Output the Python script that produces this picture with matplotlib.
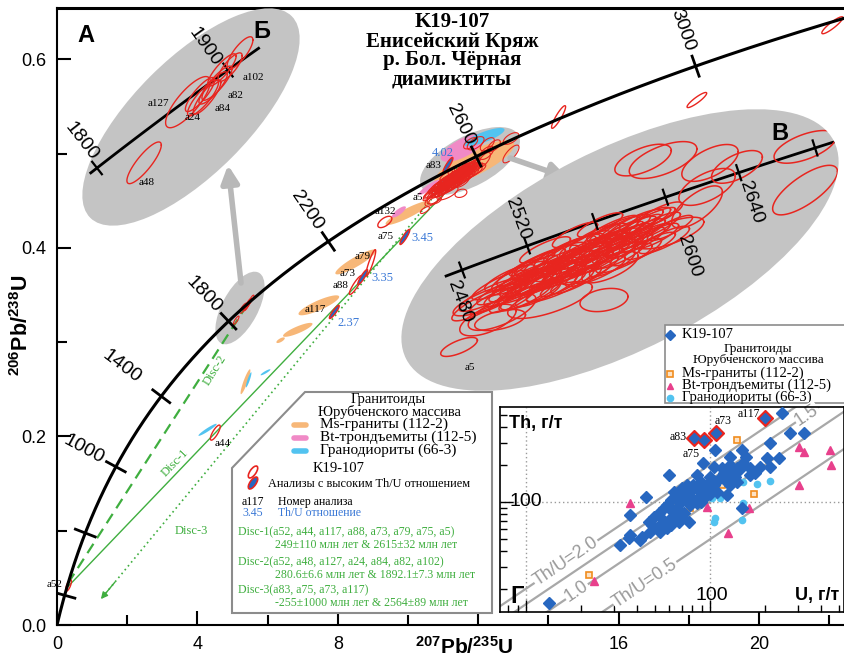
import numpy as np
import matplotlib.pyplot as plt
from matplotlib.patches import Ellipse, Polygon, Rectangle
from matplotlib.transforms import Affine2D

plt.rcParams['font.family'] = ['Liberation Sans', 'DejaVu Sans']
plt.rcParams['mathtext.fontset'] = 'custom'
plt.rcParams['mathtext.rm'] = 'Liberation Sans'
plt.rcParams['mathtext.bf'] = 'Liberation Sans:bold'
SERIF = ['Liberation Serif', 'DejaVu Serif']

RED = '#e8251f'
ORANGE = '#f7b778'
PINK = '#f08ac6'
LBLUE = '#52c3f0'
DBLUE = '#2767c0'
GREEN = '#3fae3f'
GRAY = '#c4c4c4'
THU_BLUE = '#3a78d6'

L238, L235 = 1.55125e-10, 9.8485e-10

# concordia marks, Ma
conc_ticks = [200, 600, 1000, 1400, 1800, 2200, 2600, 3000]
conc_labels = [1000, 1400, 1800, 2200, 2600, 3000]
label_dist = [36, 50, 36, 38, 36, 38]

# discordia intercepts, Ma
disc_lower = [249, 280.6, -255]
disc_upper = [2615, 1892.1, 2564]

# K19-107 single spots: 207Pb/235U, 206Pb/238U, 1s errors, rho
sp_name = ['a52', 'a44', 'a117', 'a88', 'a73', 'a79', 'a75', 'a132', 'a83', '', '', '']
sp_x = [0.33, 4.51, 7.90, 8.51, 8.71, 8.94, 9.91, 9.34, 11.14, 14.29, 18.23, 22.09]
sp_y = [0.042, 0.204, 0.332, 0.3605, 0.369, 0.384, 0.4115, 0.4274, 0.4878, 0.5387, 0.5567, 0.636]
sp_sx = [0.04, 0.07, 0.07, 0.09, 0.07, 0.07, 0.07, 0.10, 0.07, 0.10, 0.14, 0.15]
sp_sy = [0.003, 0.004, 0.0035, 0.005, 0.004, 0.007, 0.004, 0.003, 0.004, 0.006, 0.004, 0.0045]
sp_rho = [0.7, 0.8, 0.9, 0.9, 0.9, 0.9, 0.9, 0.6, 0.9, 0.9, 0.9, 0.9]
thu_high = {'a117': '2.37', 'a73': '3.35', 'a75': '3.45', 'a83': '4.02'}

# K19-107 Neoarchean cluster (inset В)
cl_x = [10.771, 10.841, 10.877, 10.927, 10.969, 11.019, 11.054, 11.090, 11.125, 11.161,
        11.196, 11.231, 11.267, 11.302, 11.338, 11.373, 11.409, 11.444, 11.480, 11.515,
        11.551, 11.586, 11.622, 11.657, 11.692, 11.728, 11.763, 11.820, 11.870, 11.905,
        10.983, 11.196, 11.409, 11.622, 11.090, 11.302, 11.480, 10.700, 10.629,
        10.735, 10.806, 10.856, 10.912, 10.955, 11.005, 11.040, 11.097, 11.139, 11.182,
        11.217, 11.267, 11.310, 11.352, 11.395, 11.437, 11.480, 11.522, 11.565, 11.607,
        11.650, 11.692, 11.735, 11.778, 11.834, 11.877, 11.934, 11.976, 11.054, 10.912,
        11.373,
        11.508, 10.771, 10.678, 11.125, 10.480, 12.934, 12.934, 12.451, 12.260, 12.239,
        12.168, 11.976, 11.927, 11.785, 11.551, 10.785, 10.685,
        10.898, 10.969, 11.040, 11.111, 11.182, 11.253, 11.324, 11.395, 11.466, 11.536,
        11.607, 11.678, 11.749, 11.834, 10.948, 11.090, 11.231, 11.373, 11.515, 11.657,
        11.799, 10.997, 11.281, 11.565]
cl_y = [0.4635, 0.4662, 0.4616, 0.4684, 0.4646, 0.4700, 0.4654, 0.4722, 0.4677, 0.4737,
        0.4700, 0.4760, 0.4722, 0.4775, 0.4737, 0.4791, 0.4760, 0.4813, 0.4775, 0.4821,
        0.4791, 0.4844, 0.4806, 0.4851, 0.4821, 0.4866, 0.4836, 0.4882, 0.4859, 0.4904,
        0.4597, 0.4635, 0.4692, 0.4749, 0.4768, 0.4825, 0.4863, 0.4597, 0.4559,
        0.4578, 0.4616, 0.4578, 0.4631, 0.4593, 0.4639, 0.4601, 0.4661, 0.4624, 0.4669,
        0.4639, 0.4692, 0.4654, 0.4707, 0.4677, 0.4722, 0.4692, 0.4737, 0.4715, 0.4768,
        0.4737, 0.4783, 0.4760, 0.4806, 0.4783, 0.4821, 0.4806, 0.4851, 0.4722, 0.4669,
        0.4749,
        0.4578, 0.4502, 0.4578, 0.4578, 0.4400, 0.5159, 0.4995, 0.5083, 0.5098, 0.5007,
        0.4931, 0.4832, 0.5109, 0.5109, 0.4703, 0.4533, 0.4502,
        0.4646, 0.4669, 0.4684, 0.4699, 0.4722, 0.4737, 0.4753, 0.4775, 0.4790, 0.4806,
        0.4828, 0.4844, 0.4859, 0.4881, 0.4616, 0.4646, 0.4684, 0.4715, 0.4753, 0.4790,
        0.4821, 0.4715, 0.4775, 0.4851]
cl_sx = [0.10, 0.09, 0.11, 0.09, 0.10, 0.08, 0.10, 0.12, 0.09, 0.11,
         0.09, 0.11, 0.08, 0.10, 0.11, 0.09, 0.12, 0.09, 0.10, 0.08,
         0.11, 0.09, 0.11, 0.09, 0.08, 0.10, 0.09, 0.08, 0.09, 0.08,
         0.11, 0.12, 0.10, 0.09, 0.09, 0.08, 0.08, 0.11, 0.10,
         0.09, 0.10, 0.08, 0.11, 0.09, 0.10, 0.08, 0.11, 0.09, 0.10,
         0.08, 0.10, 0.09, 0.11, 0.08, 0.10, 0.09, 0.10, 0.08, 0.09,
         0.10, 0.08, 0.09, 0.08, 0.09, 0.08, 0.09, 0.08, 0.09, 0.10,
         0.09,
         0.085, 0.09, 0.12, 0.15, 0.065, 0.11, 0.115, 0.09, 0.10, 0.10,
         0.09, 0.12, 0.12, 0.10, 0.10, 0.12, 0.10,
         0.09, 0.10, 0.08, 0.09, 0.10, 0.08, 0.09, 0.10, 0.09, 0.08,
         0.09, 0.10, 0.08, 0.09, 0.10, 0.09, 0.08, 0.10, 0.09, 0.08,
         0.09, 0.08, 0.10, 0.09]
cl_sy = [0.0028, 0.0025, 0.0031, 0.0026, 0.0029, 0.0024, 0.0028, 0.0032, 0.0025, 0.0030,
         0.0026, 0.0031, 0.0024, 0.0028, 0.0030, 0.0025, 0.0032, 0.0026, 0.0028, 0.0024,
         0.0030, 0.0025, 0.0031, 0.0026, 0.0024, 0.0028, 0.0025, 0.0024, 0.0026, 0.0023,
         0.0030, 0.0032, 0.0028, 0.0026, 0.0025, 0.0024, 0.0023, 0.0031, 0.0030,
         0.0026, 0.0028, 0.0024, 0.0030, 0.0026, 0.0028, 0.0024, 0.0030, 0.0026, 0.0028,
         0.0024, 0.0028, 0.0026, 0.0030, 0.0024, 0.0028, 0.0026, 0.0028, 0.0024, 0.0026,
         0.0028, 0.0024, 0.0026, 0.0024, 0.0026, 0.0024, 0.0026, 0.0024, 0.0026, 0.0028,
         0.0026,
         0.0022, 0.0020, 0.0030, 0.0035, 0.0018, 0.0031, 0.0047, 0.0031, 0.0035, 0.0035,
         0.0040, 0.0030, 0.0035, 0.0030, 0.0030, 0.0035, 0.0030,
         0.0024, 0.0026, 0.0022, 0.0025, 0.0027, 0.0022, 0.0024, 0.0026, 0.0025, 0.0022,
         0.0024, 0.0026, 0.0022, 0.0024, 0.0026, 0.0025, 0.0022, 0.0026, 0.0024, 0.0022,
         0.0024, 0.0022, 0.0026, 0.0024]
cl_rho = [0.85, 0.82, 0.86, 0.84, 0.80, 0.85, 0.83, 0.86, 0.82, 0.85,
          0.84, 0.86, 0.81, 0.85, 0.83, 0.84, 0.86, 0.82, 0.85, 0.80,
          0.84, 0.83, 0.86, 0.82, 0.80, 0.85, 0.83, 0.81, 0.84, 0.80,
          0.86, 0.85, 0.83, 0.84, 0.82, 0.80, 0.81, 0.85, 0.84,
          0.84, 0.86, 0.82, 0.85, 0.83, 0.86, 0.81, 0.84, 0.85, 0.82,
          0.86, 0.83, 0.84, 0.85, 0.82, 0.86, 0.83, 0.84, 0.81, 0.85,
          0.83, 0.86, 0.82, 0.84, 0.85, 0.83, 0.82, 0.84, 0.85, 0.83,
          0.84,
          0.30, 0.50, 0.80, 0.70, 0.70, 0.60, 0.75, 0.60, 0.60, 0.60,
          0.70, 0.70, 0.60, 0.60, 0.70, 0.70, 0.60,
          0.88, 0.87, 0.89, 0.88, 0.86, 0.89, 0.88, 0.87, 0.88, 0.89,
          0.88, 0.87, 0.89, 0.88, 0.87, 0.88, 0.89, 0.87, 0.88, 0.89,
          0.88, 0.89, 0.87, 0.88]
A5 = 74

# K19-107 Paleoproterozoic group (inset А/Б)
pp_name = ['a48', 'a127', 'a24', 'a84', 'a82', 'a102', '', '', '', '']
pp_x = [5.106, 5.310, 5.380, 5.399, 5.445, 5.552, 5.506, 5.468, 5.427, 5.366]
pp_y = [0.3232, 0.3360, 0.3369, 0.3371, 0.3400, 0.3464, 0.3434, 0.3428, 0.3390, 0.3376]
pp_sx = [0.040, 0.052, 0.036, 0.032, 0.035, 0.030, 0.028, 0.033, 0.033, 0.034]
pp_sy = [0.0022, 0.0027, 0.0019, 0.0018, 0.0018, 0.0017, 0.0015, 0.0017, 0.0017, 0.0018]
pp_rho = [0.85, 0.80, 0.85, 0.85, 0.85, 0.80, 0.80, 0.85, 0.85, 0.85]

# Yurubchen massif granitoids
ms_x = [7.46, 6.86, 6.37, 5.37, 8.51, 10.00, 11.89]
ms_y = [0.339, 0.313, 0.302, 0.258, 0.385, 0.437, 0.490]
ms_sx = [0.29, 0.21, 0.06, 0.07, 0.29, 0.32, 0.57]
ms_sy = [0.0053, 0.0037, 0.0015, 0.0066, 0.0066, 0.0064, 0.012]
ms_rho = [0.85, 0.85, 0.7, 0.9, 0.9, 0.9, 0.8]
bt_x = [9.74, 11.57, 10.60]
bt_y = [0.438, 0.506, 0.464]
bt_sx = [0.10, 0.32, 0.15]
bt_sy = [0.003, 0.0074, 0.004]
bt_rho = [0.8, 0.7, 0.9]
gd_x = [5.46, 5.94, 4.29, 12.17, 11.14]
gd_y = [0.260, 0.268, 0.207, 0.5175, 0.474]
gd_sx = [0.04, 0.07, 0.13, 0.29, 0.15]
gd_sy = [0.004, 0.0016, 0.0032, 0.0048, 0.004]
gd_rho = [0.9, 0.9, 0.95, 0.8, 0.9]

# Th vs U, ppm
k_u = [246, 273, 323, 213, 149, 107, 129, 156, 204, 213, 236, 188, 176, 152, 140, 129,
       119, 105, 92, 85, 60, 100, 89, 81, 85, 96, 105, 109, 124, 129, 140, 166, 137, 143,
       45, 63.5, 67.6, 61, 72, 75, 81, 85, 78, 69, 66, 61, 56, 52.6, 49.4, 46.5, 48.4,
       51.5, 53.7, 56, 61, 64.9, 70.5, 76.6, 72, 89, 94.4, 61, 58.4, 47.4, 42.7, 41.8,
       36.9, 36.1, 32.6, 36.9, 149, 13.3, 75, 70.5, 78, 90.5, 111, 116, 124, 129, 166,
       100, 86.7, 58.4, 53.7, 67.6]
k_th = [519, 358, 358, 297, 263, 263, 232, 232, 225, 193, 225, 193, 170, 205, 187, 176,
        170, 193, 205, 165, 165, 160, 146, 137, 129, 137, 137, 121, 114, 137, 146, 165, 160, 181,
        110, 121, 110, 104, 121, 107, 104, 97.5, 94.6, 97.5, 88.9, 86, 88.9, 81, 76, 69.4, 65,
        61.4, 57.7, 69.4, 73.8, 78.5, 76, 69.4, 81, 100.6, 110, 65, 61.4, 57.7, 52.5, 49.4,
        54.2, 50.9, 45, 78.5, 88.9, 15.2, 137, 129, 121, 121, 150, 187, 146, 199, 187,
        117, 110, 94.6, 76, 69.4]
hi_name = ['a83', 'a75', 'a73', 'a117']
hi_u = [82.2, 92.4, 107.8, 200]
hi_th = [330, 316, 358, 474]
ms_u = [141, 116, 173, 75, 78, 21.9]
ms_th = [316, 137, 117, 104, 88.9, 25.8]
bt_u = [303, 323, 447, 455, 306, 90.5, 96, 162, 126, 36.9, 23.3]
bt_th = [279, 255, 263, 199, 137, 114, 91.7, 88.9, 55.9, 97.5, 23.1]
gd_u = [159, 152, 180, 213, 102.6, 114, 152, 149, 107, 105]
gd_th = [193, 146, 139, 148, 107, 107, 97.5, 71.6, 73.8, 69.4]
thu_ratios = [2.0, 1.5, 1.0, 0.5]


def concordia(t):
    t = np.asarray(t, float) * 1e6
    return np.exp(L235 * t) - 1, np.exp(L238 * t) - 1


def conc_slope(t):
    t = t * 1e6
    return L238 * np.exp(L238 * t) / (L235 * np.exp(L235 * t))


def ell(x, y, sx, sy, rho, k=2.0):
    a = np.linspace(0, 2 * np.pi, 80)
    cov = np.array([[sx * sx, rho * sx * sy], [rho * sx * sy, sy * sy]])
    p = k * np.linalg.cholesky(cov) @ np.vstack([np.cos(a), np.sin(a)])
    return np.column_stack([x + p[0], y + p[1]])


W, H = 845, 668
fig = plt.figure(figsize=(W / 100, H / 100), dpi=100)
kx, ky = 35.1, 943.0
ax = fig.add_axes([57 / W, (H - 625) / H, 788 / W, 617 / H])
ax.set_xlim(0, 788 / kx)
ax.set_ylim(0, 617 / ky)
ax.set_autoscale_on(False)

# image-pixel coordinates (origin top-left) for layout pieces
pix = Affine2D().scale(1, -1).translate(0, H)


def inset_tf(t0, px, py, sx, sy):
    x0, y0 = concordia(t0)
    return Affine2D().translate(-x0, -y0).scale(sx, sy).translate(px, H - py)


def ptext(x, y, s, **kw):
    kw.setdefault('va', 'center')
    kw.setdefault('zorder', 12)
    return ax.text(x, y, s, transform=pix, **kw)


def conc_marks(tf, sx, sy, ages, half, lw, z, clip=None):
    for t in ages:
        x, y = concordia(t)
        th = np.arctan(conc_slope(t) * sy / sx)
        nx, ny = -np.sin(th), np.cos(th)
        ln, = ax.plot([x - nx * half / sx, x + nx * half / sx],
                      [y - ny * half / sy, y + ny * half / sy],
                      color='k', lw=lw, transform=tf, zorder=z, solid_capstyle='butt')
        if clip is not None:
            ln.set_clip_path(clip)


def conc_label(tf, sx, sy, t, off, size, z):
    x, y = concordia(t)
    th = np.degrees(np.arctan(conc_slope(t) * sy / sx))
    ax.annotate(str(t), (x, y), xycoords=tf, xytext=off, textcoords='offset pixels',
                rotation=th - 90, rotation_mode='anchor', ha='center', va='center',
                fontsize=size, zorder=z)


# small grey frames around the enlarged groups
ax.add_patch(Ellipse((240, 308), 80, 36, angle=-62, transform=pix, fc=GRAY, ec='none', zorder=1))
ax.add_patch(Ellipse((470, 161), 110, 50, angle=-28, transform=pix, fc=GRAY, ec='none', zorder=1))

# granitoid reference ellipses
for xs, ys, sxs, sys_, rs, col in [(ms_x, ms_y, ms_sx, ms_sy, ms_rho, ORANGE),
                                   (bt_x, bt_y, bt_sx, bt_sy, bt_rho, PINK),
                                   (gd_x, gd_y, gd_sx, gd_sy, gd_rho, LBLUE)]:
    for i in range(len(xs)):
        ax.add_patch(Polygon(ell(xs[i], ys[i], sxs[i], sys_[i], rs[i]), closed=True,
                             fc=col, ec='none', zorder=2))

# discordia lines
styles = [dict(ls='-', lw=1.0), dict(ls=(0, (5, 3)), lw=1.6), dict(ls=(0, (1, 2)), lw=1.2)]
for i in range(3):
    x1, y1 = concordia(disc_lower[i])
    x2, y2 = concordia(disc_upper[i])
    if i == 2:
        xe = 1.25
        ye = y2 + (xe - x2) * (y2 - y1) / (x2 - x1)
        ax.plot([x2, xe], [y2, ye], color=GREEN, zorder=3, **styles[i])
        ax.annotate('', xy=(xe, ye), xytext=(xe + 0.4, ye + 0.4 * (y2 - y1) / (x2 - x1)),
                    arrowprops=dict(arrowstyle='-|>', color=GREEN, lw=1, mutation_scale=10,
                                    shrinkA=0, shrinkB=0), zorder=3)
    else:
        ax.plot([x1, x2], [y1, y2], color=GREEN, zorder=3, **styles[i])
ptext(175, 463, 'Disc-1', family=SERIF, fontsize=9, color=GREEN, rotation=46, ha='center', zorder=3)
ptext(215, 370, 'Disc-2', family=SERIF, fontsize=9, color=GREEN, rotation=58, ha='center', zorder=3)
ptext(191, 531, 'Disc-3', family=SERIF, fontsize=9, color=GREEN, ha='center', zorder=3)

# K19-107 ellipses at full scale
for i in range(len(cl_x)):
    ax.add_patch(Polygon(ell(cl_x[i], cl_y[i], cl_sx[i], cl_sy[i], cl_rho[i]), closed=True,
                         fill=False, ec=RED, lw=0.8, zorder=4))
for i in range(len(pp_x)):
    ax.add_patch(Polygon(ell(pp_x[i], pp_y[i], pp_sx[i], pp_sy[i], pp_rho[i]), closed=True,
                         fill=False, ec=RED, lw=0.8, zorder=4))
lab_off = {'a52': (-14, 1), 'a44': (7, -11), 'a117': (-19, 2), 'a88': (-15, 0),
           'a73': (-15, 4), 'a79': (-8, 6), 'a75': (-19, 0), 'a132': (1, 10), 'a83': (-14, 0)}
thu_off = {'a117': (14, -11), 'a73': (20, -1), 'a75': (18, -1), 'a83': (-5, 12)}
for i in range(len(sp_x)):
    nm = sp_name[i]
    hi = nm in thu_high
    ax.add_patch(Polygon(ell(sp_x[i], sp_y[i], sp_sx[i], sp_sy[i], sp_rho[i]), closed=True,
                         fc=DBLUE if hi else 'none', ec=RED, lw=1.0, zorder=5 if hi else 4))
    if nm:
        ax.annotate(nm, (sp_x[i], sp_y[i]), xytext=lab_off[nm], textcoords='offset pixels',
                    ha='center', va='center', family=SERIF, fontsize=8, zorder=7)
    if hi:
        ax.annotate(thu_high[nm], (sp_x[i], sp_y[i]), xytext=thu_off[nm], textcoords='offset pixels',
                    ha='center', va='center', family=SERIF, fontsize=9, color=THU_BLUE, zorder=7)
ax.annotate('a5', (cl_x[A5], cl_y[A5]), xytext=(-7, 13), textcoords='offset pixels',
            ha='center', va='center', family=SERIF, fontsize=8, zorder=7)

# concordia
tc = np.linspace(0, 3300, 700)
cx, cy = concordia(tc)
ax.plot(cx, cy, color='k', lw=2.2, zorder=6)
conc_marks(ax.transData, kx, ky, conc_ticks, 12, 2.0, 6)
for t, d in zip(conc_labels, label_dist):
    th = np.arctan(conc_slope(t) * ky / kx)
    conc_label(ax.transData, kx, ky, t, (-np.sin(th) * d, np.cos(th) * d), 14, 7)

# arrows to the enlarged views
arrow = dict(arrowstyle='-|>', color='#b8b8b8', lw=4, mutation_scale=26, shrinkA=0, shrinkB=0)
ax.annotate('', xy=(228, 165), xytext=(241, 283), xycoords=pix, textcoords=pix,
            arrowprops=arrow, zorder=8)
ax.annotate('', xy=(568, 178), xytext=(510, 158), xycoords=pix, textcoords=pix,
            arrowprops=arrow, zorder=8)

# inset А/Б
frame_a = Ellipse((191, 117), 285, 115, angle=-45, transform=pix, fc=GRAY, ec='none', zorder=8)
ax.add_patch(frame_a)
sxa, sya = 215.0, 4739.0
tfa = inset_tf(1800, 97, 168, sxa, sya)
ta = np.linspace(1795, 1922, 100)
ln, = ax.plot(*concordia(ta), color='k', lw=2, transform=tfa, zorder=9)
ln.set_clip_path(frame_a)
conc_marks(tfa, sxa, sya, [1800, 1900], 9, 1.6, 9, frame_a)
conc_label(tfa, sxa, sya, 1800, (-16, 27), 14, 9)
conc_label(tfa, sxa, sya, 1900, (-23, 23), 14, 9)
pp_off = {'a48': (3, -20), 'a127': (-30, -1), 'a24': (-10, -20), 'a84': (16, -12),
          'a82': (19, -12), 'a102': (13, -25)}
for i in range(len(pp_x)):
    ln, = ax.plot(*ell(pp_x[i], pp_y[i], pp_sx[i], pp_sy[i], pp_rho[i]).T, color=RED,
                  lw=1.0, transform=tfa, zorder=9)
    ln.set_clip_path(frame_a)
    if pp_name[i]:
        ax.annotate(pp_name[i], (pp_x[i], pp_y[i]), xycoords=tfa, xytext=pp_off[pp_name[i]],
                    textcoords='offset pixels', ha='center', va='center', family=SERIF,
                    fontsize=8, zorder=9)
ptext(86, 35, 'А', fontsize=17, fontweight='bold', ha='center', zorder=9)
ptext(262, 32, 'Б', fontsize=17, fontweight='bold', ha='center', zorder=9)

# inset В
frame_b = Ellipse((620, 250), 480, 200, angle=-27, transform=pix, fc=GRAY, ec='none', zorder=8)
ax.add_patch(frame_b)
sxb, syb = 141.0, 2636.0
tfb = inset_tf(2480, 462, 270, sxb, syb)
tb = np.linspace(2470, 2692, 100)
ln, = ax.plot(*concordia(tb), color='k', lw=2, transform=tfb, zorder=9)
ln.set_clip_path(frame_b)
for i in range(len(cl_x)):
    ln, = ax.plot(*ell(cl_x[i], cl_y[i], cl_sx[i], cl_sy[i], cl_rho[i]).T, color=RED,
                  lw=1.1, transform=tfb, zorder=9)
    ln.set_clip_path(frame_b)
conc_marks(tfb, sxb, syb, [2480, 2520, 2560, 2600, 2640, 2680], 9, 1.6, 9.5, frame_b)
conc_label(tfb, sxb, syb, 2480, (-2, -32), 14, 9.5)
conc_label(tfb, sxb, syb, 2520, (-9, 27), 14, 9.5)
conc_label(tfb, sxb, syb, 2600, (24, -59), 14, 9.5)
conc_label(tfb, sxb, syb, 2640, (12, -30), 14, 9.5)
ax.annotate('a5', (cl_x[A5], cl_y[A5]), xycoords=tfb, xytext=(11, -21), textcoords='offset pixels',
            ha='center', va='center', family=SERIF, fontsize=8, zorder=9.5)
ptext(780, 133, 'В', fontsize=17, fontweight='bold', ha='center', zorder=9.5)

# title
for s, yy in [('K19-107', 22), ('Енисейский Кряж', 41.5), ('р. Бол. Чёрная', 60.5), ('диамиктиты', 80)]:
    ptext(452, yy, s, family=SERIF, fontsize=15, fontweight='bold', ha='center', zorder=7)

# legend of the concordia plot
ax.add_patch(Polygon([(305, 392), (492, 392), (492, 613), (232, 613), (232, 468)], closed=True,
                     transform=pix, fc='white', ec='#8c8c8c', lw=1.5, zorder=10))
ptext(388, 400, 'Гранитоиды', family=SERIF, fontsize=10.5, ha='center')
ptext(389, 412, 'Юрубченского массива', family=SERIF, fontsize=10.5, ha='center')
for yy, col, s in [(424.5, ORANGE, 'Ms-граниты (112-2)'), (437.5, PINK, 'Bt-трондъемиты (112-5)'),
                   (450.5, LBLUE, 'Гранодиориты (66-3)')]:
    ax.plot([294, 306], [yy, yy], transform=pix, color=col, lw=4, solid_capstyle='round', zorder=11)
    ptext(320, yy, s, family=SERIF, fontsize=11)
ax.add_patch(Ellipse((253, 472), 14, 6, angle=-55, transform=pix, fc='white', ec=RED, lw=1.2, zorder=11))
ax.add_patch(Ellipse((253, 483), 14, 6, angle=-55, transform=pix, fc=DBLUE, ec=RED, lw=1.2, zorder=11))
ptext(313, 468, 'K19-107', family=SERIF, fontsize=10.5)
ptext(268, 484, 'Анализы с высоким Th/U отношением', family=SERIF, fontsize=8.8)
ptext(242, 502, 'a117', family=SERIF, fontsize=8.5)
ptext(278, 502, 'Номер анализа', family=SERIF, fontsize=8.5)
ptext(242, 513, '3.45', family=SERIF, fontsize=8.5, color=THU_BLUE)
ptext(278, 513, 'Th/U отношение', family=SERIF, fontsize=8.5, color=THU_BLUE)
for s, xx, yy in [('Disc-1(a52, a44, a117, a88, a73, a79, a75, a5)', 238, 532),
                  ('249±110 млн лет & 2615±32 млн лет', 275, 545),
                  ('Disc-2(a52, a48, a127, a24, a84, a82, a102)', 238, 562),
                  ('280.6±6.6 млн лет & 1892.1±7.3 млн лет', 275, 575),
                  ('Disc-3(a83, a75, a73, a117)', 238, 590),
                  ('-255±1000 млн лет & 2564±89 млн лет', 275, 603)]:
    ptext(xx, yy, s, family=SERIF, fontsize=8.5, color=GREEN)

# legend of the Th-U plot
ax.add_patch(Rectangle((665, 325), 182, 78, transform=pix, fc='white', ec='#8c8c8c', lw=1.2, zorder=10))
ax.plot([670], [335], 'D', ms=5, color=DBLUE, transform=pix, zorder=11)
ax.plot([670], [373.5], 's', ms=4.5, mfc='#fde2c4', mec='#f08c1e', mew=1.2, transform=pix, zorder=11)
ax.plot([670], [385.5], '^', ms=5, color='#e8408c', transform=pix, zorder=11)
ax.plot([670], [397.5], 'o', ms=4.5, color=LBLUE, transform=pix, zorder=11)
ptext(682, 335, 'K19-107', family=SERIF, fontsize=10.5)
ptext(758, 349, 'Гранитоиды', family=SERIF, fontsize=9.5, ha='center')
ptext(758, 360, 'Юрубченского массива', family=SERIF, fontsize=9.5, ha='center')
ptext(682, 373.5, 'Ms-граниты (112-2)', family=SERIF, fontsize=10.5)
ptext(682, 385.5, 'Bt-трондъемиты (112-5)', family=SERIF, fontsize=10.5)
ptext(682, 397.5, 'Гранодиориты (66-3)', family=SERIF, fontsize=10.5)

# axes styling
ax.set_xticks([0, 4, 8, 12, 16, 20])
ax.set_xticklabels(['0', '4', '8', '', '16', '20'])
ax.set_xticks([2, 6, 10, 14, 18, 22], minor=True)
ax.set_yticks([0, 0.2, 0.4, 0.6])
ax.set_yticklabels(['0.0', '0.2', '0.4', '0.6'])
ax.set_yticks([0.1, 0.3, 0.5], minor=True)
ax.tick_params(which='both', direction='in', width=1.5, labelsize=13)
ax.tick_params(which='major', length=10, pad=8)
ax.tick_params(which='minor', length=7)
ax.spines['right'].set_visible(False)
ax.spines['top'].set_linewidth(2.2)
ax.spines['left'].set_linewidth(1.5)
ax.spines['bottom'].set_linewidth(1.5)
ax.annotate(r'$\mathbf{^{207}Pb/^{235}U}$', (11.6, 0), xytext=(0, -22), textcoords='offset pixels',
            ha='center', va='center', fontsize=15, annotation_clip=False)
ptext(22, 325, r'$\mathbf{^{206}Pb/^{238}U}$', fontsize=15.5, rotation=90, ha='center')

# Th-U inset
gx = fig.add_axes([500 / W, (H - 612) / H, 344 / W, 205 / H])
gx.set_xscale('log')
gx.set_yscale('log')
gx.set_xlim(7.22, 535)
gx.set_ylim(12.97, 583)
gx.grid(True, which='major', ls=(0, (1, 2)), color='#9a9a9a', lw=1)
gx.tick_params(which='both', direction='in', labelleft=False, labelbottom=False, width=1)
gx.tick_params(which='major', length=9)
gx.tick_params(which='minor', length=5)
for sp in gx.spines.values():
    sp.set_linewidth(1.2)
uu = np.array([5.0, 700.0])
for r in thu_ratios:
    gx.plot(uu, r * uu, color='#a8a8a8', lw=1.6, zorder=1)
dec_x = 344 / np.log10(535 / 7.22)
dec_y = 205 / np.log10(583 / 12.97)
rot = np.degrees(np.arctan(dec_y / dec_x))
lbox = dict(fc='white', ec='none', pad=0.5)
for u0, r, s in [(16.5, 2.0, 'Th/U=2.0'), (18.9, 1.0, '1.0'), (44.3, 0.5, 'Th/U=0.5'), (336, 1.5, '1.5')]:
    gx.text(u0, r * u0, s, rotation=rot, rotation_mode='anchor', ha='center', va='center',
            fontsize=13, color='#9a9a9a', bbox=lbox, zorder=2)
gx.plot(gd_u, gd_th, 'o', ms=4.5, color=LBLUE, zorder=3, ls='none')
gx.plot(ms_u, ms_th, 's', ms=5, mfc='#fde2c4', mec='#f08c1e', mew=1.2, zorder=3, ls='none')
gx.plot(bt_u, bt_th, '^', ms=5.5, color='#e8408c', zorder=3, ls='none')
gx.plot(k_u, k_th, 'D', ms=6, color=DBLUE, zorder=4, ls='none')
gx.plot(hi_u, hi_th, 'D', ms=8.5, color=RED, zorder=4, ls='none')
gx.plot(hi_u, hi_th, 'D', ms=5.5, color=DBLUE, zorder=5, ls='none')
hi_off = {'a83': (-8, 1, 'right'), 'a75': (-12, -14, 'center'), 'a73': (7, 12, 'center'),
          'a117': (-17, 4, 'center')}
for i, nm in enumerate(hi_name):
    dx, dy, ha = hi_off[nm]
    gx.annotate(nm, (hi_u[i], hi_th[i]), xytext=(dx, dy), textcoords='offset pixels',
                ha=ha, va='center', family=SERIF, fontsize=8.5, zorder=6)
gx.annotate('100', (0, 100), xycoords=('axes fraction', 'data'), xytext=(10, 0),
            textcoords='offset pixels', ha='left', va='center', fontsize=14)
gx.annotate('100', (100, 0), xycoords=('data', 'axes fraction'), xytext=(2, 17),
            textcoords='offset pixels', ha='center', va='center', fontsize=14)
gx.text(0.025, 0.92, 'Th, г/т', transform=gx.transAxes, fontsize=13, fontweight='bold', va='center')
gx.text(0.985, 0.08, 'U, г/т', transform=gx.transAxes, fontsize=13, fontweight='bold',
        ha='right', va='center')
gx.text(0.03, 0.075, 'Г', transform=gx.transAxes, fontsize=17, fontweight='bold', va='center')

fig.savefig('out.png', dpi=100)
